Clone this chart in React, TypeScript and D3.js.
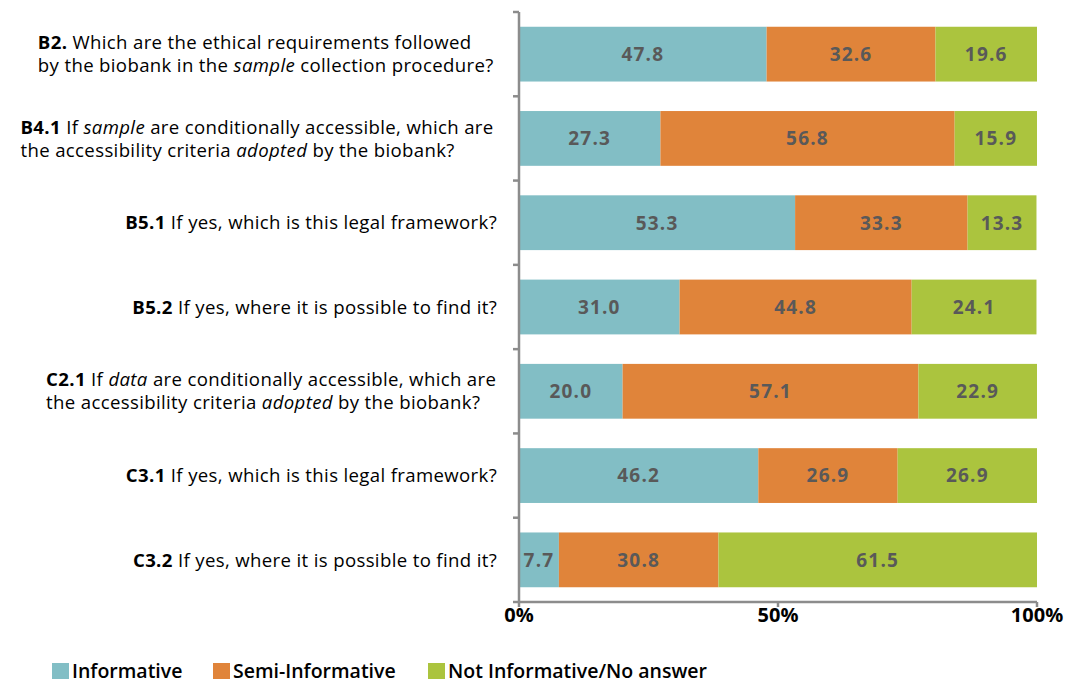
import React from 'react';
import { scaleLinear, scaleBand, stack } from 'd3';

// question codes and text (two lines where the original wraps)
const codes = ['B2.', 'B4.1', 'B5.1', 'B5.2', 'C2.1', 'C3.1', 'C3.2'];
const questionLines = [
  ['Which are the ethical requirements followed', 'by the biobank in the sample collection procedure?'],
  ['If sample are conditionally accessible, which are', 'the accessibility criteria adopted by the biobank?'],
  ['If yes, which is this legal framework?'],
  ['If yes, where it is possible to find it?'],
  ['If data are conditionally accessible, which are', 'the accessibility criteria adopted by the biobank?'],
  ['If yes, which is this legal framework?'],
  ['If yes, where it is possible to find it?'],
];

const informative = [47.8, 27.3, 53.3, 31.0, 20.0, 46.2, 7.7];
const semiInformative = [32.6, 56.8, 33.3, 44.8, 57.1, 26.9, 30.8];
const notInformative = [19.6, 15.9, 13.3, 24.1, 22.9, 26.9, 61.5];

const seriesNames = ['Informative', 'Semi-Informative', 'Not Informative/No answer'];
const seriesColors = ['#82bec5', '#e0843a', '#abc43e'];
const xTicks = [0, 50, 100];

const font = '"Open Sans", sans-serif';
const labelSize = 18.6;
const labelSpacing = 0.35;

// measure text width so wrapped labels can be left aligned as a block
let ctx: CanvasRenderingContext2D | null = null;
function measure(code: string, line: string) {
  if (!ctx) ctx = document.createElement('canvas').getContext('2d');
  if (!ctx) return line.length * 9;
  ctx.font = `bold ${labelSize}px "Open Sans"`;
  const full = code ? code + ' ' : '';
  const w1 = code ? ctx.measureText(full).width : 0;
  ctx.font = `500 ${labelSize}px "Open Sans"`;
  return w1 + ctx.measureText(line).width + (full.length + line.length) * labelSpacing;
}

export default function App() {
  const width = 1083, height = 683;
  const left = 519, right = 1037, top = 12, bottom = 602;
  const labelRight = 497;

  const rows = codes.map((c, i) => ({
    code: c,
    inf: informative[i],
    semi: semiInformative[i],
    not: notInformative[i],
  }));
  const keys = ['inf', 'semi', 'not'];
  const layers = stack<any>().keys(keys)(rows);

  const x = scaleLinear().domain([0, 100]).range([left, right]);
  const y = scaleBand().domain(codes).range([top, bottom]).paddingInner(0.35).paddingOuter(0.175);
  const step = y.step();
  const boundaries = codes.map((_, i) => top + i * step).concat([bottom]);

  // words that are slanted in the original
  const italicWords = ['sample', 'data', 'adopted'];
  const renderLine = (line: string) => {
    const words = line.split(' ');
    return words.map((w, k) => (
      <tspan key={k} fontStyle={italicWords.includes(w) ? 'italic' : 'normal'}>
        {(k > 0 ? ' ' : '') + w}
      </tspan>
    ));
  };

  return (
    <svg width={width} height={height} style={{ position: 'absolute', left: 0, top: 0 }}>
      <rect width={width} height={height} fill="#fff" />

      {layers.map((layer, si) => (
        <g key={si}>
          {layer.map((d, i) => {
            const x0 = x(d[0]), x1 = x(d[1]);
            const yy = y(codes[i])!;
            const val = [informative, semiInformative, notInformative][si][i];
            return (
              <g key={i}>
                <rect x={x0} y={yy} width={x1 - x0} height={y.bandwidth()} fill={seriesColors[si]} />
                <text
                  x={(x0 + x1) / 2}
                  y={yy + y.bandwidth() / 2}
                  dy="0.36em"
                  textAnchor="middle"
                  fontFamily={font}
                  fontWeight="bold"
                  fontSize={19}
                  letterSpacing={1.2}
                  fill="#595959"
                >
                  {val.toFixed(1)}
                </text>
              </g>
            );
          })}
        </g>
      ))}

      {/* category labels */}
      {codes.map((c, i) => {
        const lines = questionLines[i];
        const cy = y(c)! + y.bandwidth() / 2;
        const lh = 23;
        const widths = lines.map((ln, j) => measure(j === 0 ? c : '', ln));
        const startX = labelRight - Math.max(...widths);
        return (
          <text key={c} fontFamily={font} fontSize={labelSize} fontWeight={500} letterSpacing={labelSpacing} fill="#000">
            {lines.map((ln, j) => (
              <tspan key={j} x={startX} y={cy + (j - (lines.length - 1) / 2) * lh} dy="0.36em">
                {j === 0 && <tspan fontWeight="bold">{c} </tspan>}
                {renderLine(ln)}
              </tspan>
            ))}
          </text>
        );
      })}

      {/* left axis */}
      <line x1={left} x2={left} y1={top} y2={bottom} stroke="#8c8c8c" strokeWidth={2.5} />
      {boundaries.map((b, i) => (
        <line key={i} x1={left - 6} x2={left} y1={b} y2={b} stroke="#8c8c8c" strokeWidth={2.5} />
      ))}

      {/* bottom axis */}
      <line x1={left} x2={right} y1={bottom} y2={bottom} stroke="#8c8c8c" strokeWidth={2.5} />
      {xTicks.map(t => (
        <g key={t}>
          <line x1={x(t)} x2={x(t)} y1={bottom} y2={bottom + 5} stroke="#8c8c8c" strokeWidth={2.5} />
          <text x={x(t)} y={622} textAnchor="middle" fontFamily={font} fontWeight="bold" fontSize={20} fill="#000">
            {t}%
          </text>
        </g>
      ))}

      {/* legend */}
      {seriesNames.map((n, i) => {
        const lx = [52, 213, 428][i];
        return (
          <g key={n}>
            <rect x={lx} y={663} width={17} height={16} fill={seriesColors[i]} />
            <text x={lx + 20} y={678} fontFamily={font} fontSize={19.5} fontWeight={600} fill="#000">
              {n}
            </text>
          </g>
        );
      })}
    </svg>
  );
}
